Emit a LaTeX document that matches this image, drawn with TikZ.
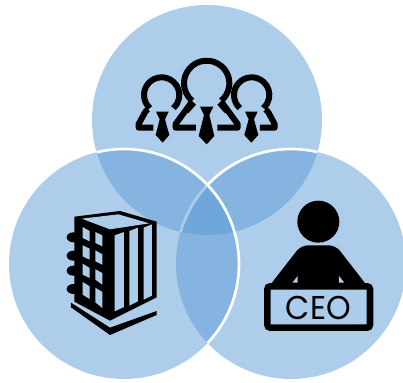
\documentclass[tikz,border=0pt]{standalone}
\usepackage{fontspec}
\newfontfamily\ceofont{Poppins}
\definecolor{vennblue}{HTML}{5B9BD5}
\definecolor{bgblue}{HTML}{ABCCEA}
\tikzset{
  venn/.style={fill=vennblue,fill opacity=0.5},
  vennline/.style={draw=white,line width=2.7pt},
  ring/.style={draw=black,line width=6pt,line join=round},
  ink/.style={fill=black,draw=none},
  hole/.style={fill=bgblue,draw=none},
  zoomA/.style={shift={(120,50)},x=0.3333pt,y=-0.3333pt},
  zoomB/.style={shift={(55,200)},x=0.3333pt,y=-0.3333pt},
  zoomC/.style={shift={(255,190)},x=0.3333pt,y=-0.3333pt}
}
\begin{document}
\begin{tikzpicture}[x=1pt,y=-1pt]
\useasboundingbox (0,0) rectangle (403,382);
\clip (0,0) rectangle (403,382);
% Venn circles
\fill[venn] (207,120) circle[radius=115];
\fill[venn] (291,264) circle[radius=115];
\begin{scope}
\clip (207,120) circle[radius=115];
\draw[vennline] (291,264) circle[radius=115];
\end{scope}
\fill[venn] (124,264) circle[radius=115];
\begin{scope}
\clip (207,120) circle[radius=115] (291,264) circle[radius=115];
\draw[vennline] (124,264) circle[radius=115];
\end{scope}
% People
\begin{scope}[zoomA]
\draw[ring] (125,135) ++(132:53) arc[start angle=132,end angle=408,radius=53];
\draw[ring] (395,135) ++(132:53) arc[start angle=132,end angle=408,radius=53];
\draw[ring] (260,100) ++(130:68) arc[start angle=130,end angle=410,radius=68];
\fill[ink] (209,146) -- (228,164) -- (205,190) -- (195,175) -- cycle;
\fill[ink] (311,146) -- (292,164) -- (315,190) -- (325,175) -- cycle;
\draw[ring] (214,158) -- (167,222) -- (167,233) -- (228,233);
\draw[ring] (306,158) -- (353,222) -- (353,233) -- (292,233);
\draw[ring] (83,178) -- (75,187) -- (56,222) -- (56,233) -- (100,233);
\draw[ring] (437,178) -- (445,187) -- (464,222) -- (464,233) -- (420,233);
\fill[ink] (240,170) -- (280,170) -- (268,195) -- (283,258) -- (260,283) -- (236,258) -- (252,195) -- cycle;
\fill[ink] (108,185) -- (146,185) -- (135,208) -- (148,255) -- (128,278) -- (107,255) -- (119,208) -- cycle;
\fill[ink] (375,185) -- (413,185) -- (402,208) -- (415,255) -- (394,278) -- (373,255) -- (386,208) -- cycle;
\end{scope}
% Building
\begin{scope}[zoomB]
\fill[ink] (58,50) -- (195,33) -- (305,65) -- (305,292) -- (165,362) -- (58,305) -- cycle;
\fill[ink] (48,308) -- (165,383) -- (305,333) -- (305,345) -- (165,405) -- (48,322) -- cycle;
\foreach \yy in {112,167,212,267} {
  \fill[ink] (55,\yy) ellipse[x radius=20,y radius=15];
}
\fill[hole] (80,56) -- (190,43) -- (283,70) -- (165,88) -- cycle;
\fill[hole] (83,81) -- (104,93) -- (104,124) -- (83,114) -- cycle;
\fill[hole] (83,136) -- (104,146) -- (104,179) -- (83,169) -- cycle;
\fill[hole] (83,191) -- (104,204) -- (104,234) -- (83,224) -- cycle;
\fill[hole] (83,246) -- (104,259) -- (104,297) -- (83,284) -- cycle;
\fill[hole] (121,96) -- (142,106) -- (142,139) -- (121,129) -- cycle;
\fill[hole] (121,151) -- (142,163) -- (142,194) -- (121,184) -- cycle;
\fill[hole] (121,208) -- (142,219) -- (142,254) -- (121,239) -- cycle;
\fill[hole] (121,263) -- (142,276) -- (142,324) -- (121,307) -- cycle;
\fill[hole] (179,106) -- (207,96) -- (207,321) -- (179,334) -- cycle;
\fill[hole] (223,93) -- (249,83) -- (249,304) -- (223,317) -- cycle;
\fill[hole] (266,83) -- (291,73) -- (291,287) -- (266,299) -- cycle;
\end{scope}
% CEO
\begin{scope}[zoomC]
\fill[ink] (190,95) circle[radius=63];
\fill[ink,rounded corners=7pt] (138,166) -- (242,166) -- (340,292) -- (40,292) -- cycle;
\fill[hole] (112,278) -- (128,278) -- (128,258) -- cycle;
\fill[hole] (268,278) -- (252,278) -- (252,258) -- cycle;
\draw[line width=6.6pt,rounded corners=3pt,fill=bgblue] (37,289) rectangle (345,413);
\node[inner sep=0pt,anchor=center,xscale=0.95] (ceolabel) at (190,354) {\ceofont\fontsize{33}{33}\selectfont CEO};
\end{scope}
\end{tikzpicture}
\end{document}
